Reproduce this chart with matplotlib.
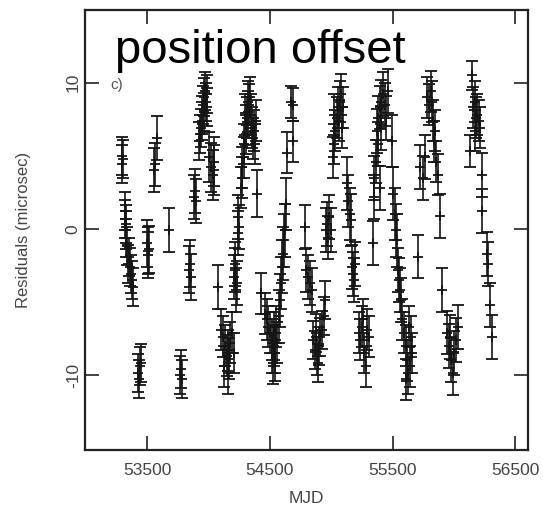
import matplotlib
matplotlib.use("Agg")
import matplotlib.pyplot as plt
import numpy as np

plt.rcParams['font.family'] = ['Liberation Sans', 'DejaVu Sans']

# Timing residuals (MJD, residual in microseconds, 1-sigma uncertainty)
mjd = [
    53296, 53296, 53304, 53316, 53316, 53324, 53324, 53330, 53338, 53353,
    53361, 53367, 53372, 53381, 53344,
    53423, 53438, 53452, 53432,
    53494, 53503, 53509, 53514,
    53551, 53560, 53579,
    53679,
    53764, 53778, 53786,
    53849, 53857, 53843,
    53883, 53891, 53897,
    53920, 53928, 53934, 53948, 53956, 53962, 53971, 53979, 53990, 53985,
    53942, 53962,
    54005, 54019, 54033, 54047, 54041,
    54076,
    54104, 54118, 54132, 54146, 54161, 54175, 54189, 54127, 54155, 54203,
    54166,
    54203, 54217, 54231, 54226, 54212,
    54240, 54246, 54237,
    54260, 54274, 54274, 54288, 54288, 54302, 54308, 54316, 54325, 54331,
    54336, 54345, 54353, 54359, 54373, 54382, 54387, 54297, 54319,
    54393,
    54430, 54458, 54472, 54487, 54501, 54515, 54529, 54538, 54543, 54529,
    54515, 54557, 54552, 54523,
    54572, 54586, 54591, 54600, 54608, 54614, 54623, 54628,
    54643, 54685, 54685, 54671,
    54784,
    54798, 54813, 54827, 54841,
    54855, 54869, 54883, 54898, 54912, 54926, 54940, 54949, 54892, 54875,
    54954, 54969, 54983, 54997, 54977,
    55011, 55020, 55034, 55045, 55054, 55068, 55082, 55096, 55062, 55090,
    55025,
    55125, 55139, 55153, 55167, 55181, 55195, 55187, 55159,
    55224, 55238, 55252, 55266, 55280, 55295, 55309, 55261,
    55337,
    55346, 55351, 55365, 55374, 55385, 55394, 55408, 55422, 55436, 55450,
    55408, 55380, 55394, 55465,
    55493, 55507, 55521, 55527, 55536, 55544, 55555, 55564, 55572,
    55578, 55592, 55606, 55621, 55629, 55640, 55649, 55635, 55612, 55657,
    55706,
    55726, 55748, 55762,
    55782, 55799, 55811, 55819, 55833, 55839, 55856, 55867, 55847,
    55890,
    55904,
    55947, 55961, 55975, 55989, 56003, 56017, 56032, 55969,
    56131, 56145, 56159, 56173, 56188, 56202, 56216, 56179, 56168,
    56225, 56230, 56273, 56281, 56293, 56310,
]

residual = [
    5.0, 4.4, 4.8, 1.2, 0.7, 0.3, -0.1, -0.6, -1.2, -1.9,
    -2.6, -3.1, -3.5, -4.0, -2.4,
    -9.9, -9.4, -9.2, -10.3,
    -1.0, -1.5, -1.8, -1.4,
    4.0, 4.4, 6.2,
    -0.1,
    -10.0, -9.6, -10.3,
    -2.4, -3.3, -2.8,
    2.2, 2.6, 1.9,
    6.0, 6.5, 6.9, 7.8, 8.5, 9.0, 9.4, 8.7, 8.3, 9.2,
    7.4, 8.0,
    4.9, 4.2, 3.7, 4.0, 4.6,
    -4.0,
    -6.9, -7.4, -8.0, -8.7, -8.3, -7.8, -7.1, -9.4, -9.9, -8.5,
    -8.9,
    -3.3, -2.8, -3.7, -4.2, -2.4,
    0.8, 0.1, -0.3,
    2.8, 3.5, 4.2, 4.9, 5.8, 6.5, 7.1, 7.6, 8.0, 8.5,
    9.0, 7.8, 6.9, 6.2, 6.7, 5.8, 7.4, 7.8, 8.7,
    2.4,
    -4.4, -5.8, -6.2, -6.7, -7.1, -7.6, -8.0, -8.5, -9.0, -7.1,
    -8.5, -7.8, -6.7, -9.2,
    -6.0, -4.9, -3.7, -2.6, -1.7, -0.8, -0.1, 1.7,
    5.2, 6.0, 8.5, 8.7,
    0.1,
    -2.8, -3.3, -3.7, -4.2,
    -7.6, -8.3, -8.7, -8.0, -7.4, -6.9, -6.0, -4.9, -9.2, -7.1,
    -0.1, 0.3, 0.8, -0.1, -0.6,
    4.9, 5.8, 6.7, 7.6, 8.3, 8.7, 9.2, 8.3, 7.4, 6.9,
    7.8,
    3.1, 1.9, 1.0, -2.6, -3.1, -2.4, -3.5, 0.6,
    -7.1, -7.6, -6.7, -8.5, -9.4, -6.9, -7.4, -6.2,
    -1.0,
    2.2, 3.5, 4.6, 6.7, 7.6, 8.3, 8.7, 9.2, 8.5, 7.6,
    6.9, 5.8, 2.8, 9.4,
    6.0, 2.4, 1.0, -0.1, -0.8, -2.8, -3.5, -4.2, -4.9,
    -6.2, -7.1, -8.0, -9.0, -9.9, -9.4, -7.4, -6.7, -10.3, -8.5,
    -1.9,
    4.2, 3.5, 4.9,
    9.0, 8.5, 9.4, 8.7, 7.4, 6.0, 4.6, 3.7, 6.7,
    0.9,
    -4.2,
    -7.1, -8.0, -9.0, -9.9, -8.5, -7.6, -6.7, -7.4,
    5.3, 10.5, 8.3, 8.7, 7.8, 7.4, 6.9, 7.6, 6.7,
    3.7, 1.2, -1.7, -2.4, -5.2, -7.4,
]

error = [
    1.3, 1.3, 1.3, 1.3, 1.3, 1.3, 1.3, 1.3, 1.3, 1.3,
    1.3, 1.3, 1.3, 1.3, 1.3,
    1.3, 1.3, 1.3, 1.3,
    1.6, 1.6, 1.6, 1.6,
    1.5, 1.5, 1.5,
    1.5,
    1.3, 1.3, 1.3,
    1.6, 1.6, 1.6,
    1.5, 1.5, 1.5,
    1.3, 1.3, 1.3, 1.3, 1.3, 1.3, 1.3, 1.3, 1.3, 1.3,
    1.3, 1.3,
    1.7, 1.7, 1.7, 1.7, 1.7,
    1.5,
    1.4, 1.4, 1.4, 1.4, 1.4, 1.4, 1.4, 1.4, 1.4, 1.4,
    1.4,
    1.5, 1.5, 1.5, 1.5, 1.5,
    1.5, 1.5, 1.5,
    1.4, 1.4, 1.4, 1.4, 1.4, 1.4, 1.4, 1.4, 1.4, 1.4,
    1.4, 1.4, 1.4, 1.4, 1.4, 1.4, 1.4, 1.4, 1.4,
    1.6,
    1.4, 1.4, 1.4, 1.4, 1.4, 1.4, 1.4, 1.4, 1.4, 1.4,
    1.4, 1.4, 1.4, 1.4,
    1.8, 1.8, 1.8, 1.8, 1.8, 1.8, 1.8, 1.8,
    1.4, 1.4, 1.1, 1.1,
    1.5,
    1.5, 1.5, 1.5, 1.5,
    1.3, 1.3, 1.3, 1.3, 1.3, 1.3, 1.3, 1.3, 1.3, 1.3,
    1.5, 1.5, 1.5, 1.5, 1.5,
    1.4, 1.4, 1.4, 1.4, 1.4, 1.4, 1.4, 1.4, 1.4, 1.4,
    1.4,
    1.8, 1.8, 1.8, 1.5, 1.5, 1.5, 1.5, 1.8,
    1.4, 1.4, 1.4, 1.4, 1.4, 1.4, 1.4, 1.4,
    1.5,
    1.5, 1.5, 1.5, 1.5, 1.5, 1.5, 1.5, 1.5, 1.5, 1.5,
    1.5, 1.5, 1.5, 1.5,
    1.8, 1.8, 1.8, 1.8, 1.8, 1.5, 1.5, 1.5, 1.5,
    1.4, 1.4, 1.4, 1.4, 1.4, 1.4, 1.4, 1.4, 1.4, 1.4,
    1.5,
    1.5, 1.5, 1.5,
    1.4, 1.4, 1.4, 1.4, 1.4, 1.4, 1.4, 1.4, 1.4,
    1.5,
    1.5,
    1.5, 1.5, 1.5, 1.5, 1.5, 1.5, 1.5, 1.5,
    1.1, 1.0, 1.4, 1.4, 1.4, 1.4, 1.4, 1.4, 1.4,
    1.5, 1.5, 1.5, 1.5, 1.5, 1.5,
]

xticks = [53500, 54500, 55500, 56500]
yticks = [-10, 0, 10]

fig = plt.figure(figsize=(5.43, 5.08), dpi=100)
ax = fig.add_axes([85 / 543, 1 - 449.5 / 508, (528 - 85) / 543, (449.5 - 9.5) / 508])

ax.errorbar(mjd, residual, yerr=error, fmt='+', color='#151515', ecolor='#151515',
            markersize=7, markeredgewidth=1.3, elinewidth=1.2,
            capsize=4.5, capthick=1.2)

ax.set_xlim(52992, 56604)
ax.set_ylim(-15.1, 15.0)
ax.set_xticks(xticks)
ax.set_yticks(yticks)
ax.set_xticklabels([str(t) for t in xticks])
ax.set_yticklabels([str(t) for t in yticks], rotation=90, va='center')

for side in ax.spines.values():
    side.set_linewidth(1.6)
    side.set_color('#222222')

ax.tick_params(direction='in', length=10, width=1.2, color='#222222',
               top=True, right=True, labelsize=12.5, labelcolor='#444444')
ax.tick_params(axis='x', pad=10)
ax.tick_params(axis='y', pad=3)

ax.set_xlabel('MJD', fontsize=12.5, color='#444444', labelpad=9)
ax.set_ylabel('Residuals (microsec)', fontsize=12, color='#444444', labelpad=25)

ax.text(0.058, 0.828, 'c)', transform=ax.transAxes, fontsize=11, color='#555555',
        ha='left', va='center')

fig.text(115 / 543, 1 - 63 / 508, 'position offset', fontsize=34, color='black',
         ha='left', va='baseline')

fig.savefig('out.png', dpi=100)
